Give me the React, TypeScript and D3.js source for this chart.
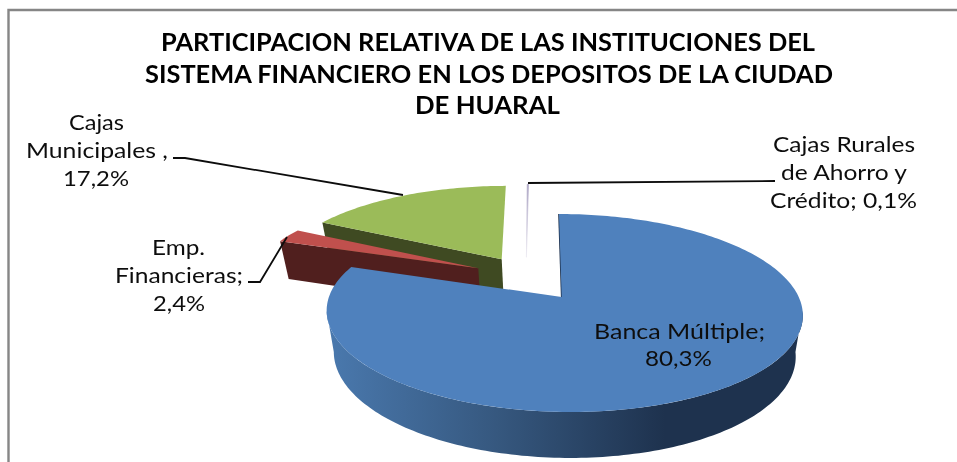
import React from "react";
import * as d3 from "d3";

// ---- data -------------------------------------------------------------
const categories = ["Banca Múltiple", "Emp. Financieras", "Cajas Municipales", "Cajas Rurales de Ahorro y Crédito"];
const shares = [80.3, 2.4, 17.2, 0.1];
const titleLines = [
  "PARTICIPACION RELATIVA DE LAS INSTITUCIONES DEL",
  "SISTEMA FINANCIERO EN LOS DEPOSITOS DE LA CIUDAD",
  "DE HUARAL",
];
const topColors = ["#4f81bd", "#c0504d", "#9bbb59", "#8064a2"];
const sideColors = ["url(#blueSide)", "#501f1e", "#3f4a22", "#40325a"];

// ---- layout -----------------------------------------------------------
const W = 957, H = 462;
const FONT = "Lato, Carlito, Calibri, sans-serif";
// explosion of each slice inside the pie plane (unit = radius)
const explode: [number, number][] = [[0, 0], [-0.369, 0.3126], [-0.267, 0.417], [-0.155, 0.441]];

// perspective map from the pie plane to the screen
const persp = 0.1616;
const project = (u: number, v: number): [number, number] => {
  const w = 1 + persp * v;
  return [(561.7 + 234.9 * u + 87.6 * v) / w, (297 - 48.4 * v) / w];
};
// thickness: from the upper face point to the lower face point
const drop = ([x, y]: [number, number]): [number, number] => [565 + (x - 565) * 0.97, y + 38 + (y - 243) * 0.047];

const pie = d3.pie<number>().value((d) => d).sort(null);
const arcs = pie(shares);
const rim = (i: number, a0: number, a1: number): [number, number][] => {
  const [ou, ov] = explode[i];
  const n = Math.max(2, Math.ceil(Math.abs(a1 - a0) / 0.02));
  return d3.range(n + 1).map((k) => {
    const a = a0 + ((a1 - a0) * k) / n;
    // the large slice leans slightly to the right towards the viewer
    const lean = i === 0 ? 0.015 * (1 - Math.cos(a)) * 0.6 : 0;
    return project(ou + lean + Math.sin(a), ov + Math.cos(a));
  });
};
const line = d3.line<[number, number]>();
const apex = (i: number) => project(explode[i][0], explode[i][1]);

const topFace = (i: number) => line([apex(i), ...rim(i, arcs[i].startAngle, arcs[i].endAngle)]) + "Z";
const band = (pts: [number, number][]) => line([...pts, ...pts.map(drop).reverse()]) + "Z";

const rad = (deg: number) => (deg * Math.PI) / 180;

type Lab = { t: string; x0: number; x1: number; y: number };
const labels: Lab[] = [
  { t: "Cajas", x0: 69, x1: 124, y: 130 },
  { t: "Municipales ,", x0: 26, x1: 168, y: 158 },
  { t: "17,2%", x0: 63, x1: 129, y: 186 },
  { t: "Emp.", x0: 152, x1: 205, y: 255 },
  { t: "Financieras;", x0: 115, x1: 243, y: 283 },
  { t: "2,4%", x0: 153, x1: 205, y: 311 },
  { t: "Cajas Rurales", x0: 773, x1: 915, y: 152 },
  { t: "de Ahorro y", x0: 781, x1: 907, y: 180 },
  { t: "Crédito; 0,1%", x0: 770, x1: 917, y: 208 },
  { t: "Banca Múltiple;", x0: 594, x1: 765, y: 339 },
  { t: "80,3%", x0: 645, x1: 712, y: 366 },
];
const titleLayout = [
  { x0: 161, x1: 815, y: 51 },
  { x0: 145, x1: 833, y: 83 },
  { x0: 415, x1: 560, y: 114 },
];
const leaders: [number, number][][] = [
  [[173, 158], [185, 158], [403, 195]],
  [[248, 282], [260, 282], [287, 237]],
  [[528, 183], [775, 181]],
];

export default function App() {
  const a = arcs;
  return (
    <svg width={W} height={H} viewBox={`0 0 ${W} ${H}`} style={{ position: "absolute", left: 0, top: 0, background: "#fff" }}>
      <defs>
        <linearGradient id="blueSide" gradientUnits="userSpaceOnUse" x1={327} x2={665} y1={0} y2={0}>
          <stop offset="0" stopColor="#4a79ae" />
          <stop offset="0.5" stopColor="#36587f" />
          <stop offset="1" stopColor="#1e324e" />
        </linearGradient>
        <linearGradient id="ruralFade" gradientUnits="userSpaceOnUse" x1={0} x2={0} y1={183} y2={258}>
          <stop offset="0" stopColor="#a9a2c2" />
          <stop offset="1" stopColor="#eeecf3" />
        </linearGradient>
        <filter id="soft" x="-5%" y="-20%" width="110%" height="140%">
          <feGaussianBlur stdDeviation="0.35" />
        </filter>
      </defs>

      {/* frame */}
      <path d={`M8.5 ${H}V10H${W}`} fill="none" stroke="#868686" strokeWidth={2.4} />

      {/* title */}
      <g filter="url(#soft)">
        {titleLines.map((t, i) => (
          <text key={t} x={titleLayout[i].x0} y={titleLayout[i].y} fontFamily={FONT} fontWeight={700} fontSize={25} fill="#000"
            textLength={titleLayout[i].x1 - titleLayout[i].x0} lengthAdjust="spacingAndGlyphs">{t}</text>
        ))}
      </g>

      {/* Cajas Rurales sliver */}
      <path d={line([apex(3), ...rim(3, a[3].startAngle, a[3].endAngle)]) + "Z"} fill="url(#ruralFade)" stroke="url(#ruralFade)" strokeWidth={0.7} />

      {/* Cajas Municipales */}
      <path d={band([apex(2), ...rim(2, a[2].startAngle, a[2].startAngle)])} fill={sideColors[2]} />
      <path d={topFace(2)} fill={topColors[2]} />

      {/* Emp. Financieras */}
      <path d={band([apex(1), ...rim(1, a[1].startAngle, a[1].startAngle)])} fill={sideColors[1]} />
      <path d={topFace(1)} fill={topColors[1]} />

      {/* Banca Multiple: outer wall between the two widest points of the ellipse */}
      <path d={band(rim(0, rad(98), rad(262)))} fill={sideColors[0]} />
      <path d={line([apex(0), rim(0, 0, 0)[0]])!} stroke="#1e324e" strokeWidth={1.6} fill="none" />
      <path d={topFace(0)} fill={topColors[0]} />

      {/* leader lines */}
      {leaders.map((pts, i) => (
        <path key={i} d={line(pts)!} fill="none" stroke="#0c0c0c" strokeWidth={1.8} />
      ))}

      {/* data labels */}
      <g filter="url(#soft)">
        {labels.map((l) => (
          <text key={l.t} x={l.x0} y={l.y} fontFamily={FONT} fontSize={22} fill="#111"
            textLength={l.x1 - l.x0} lengthAdjust="spacingAndGlyphs">{l.t}</text>
        ))}
      </g>
      <title>{categories.join(", ")}</title>
    </svg>
  );
}
